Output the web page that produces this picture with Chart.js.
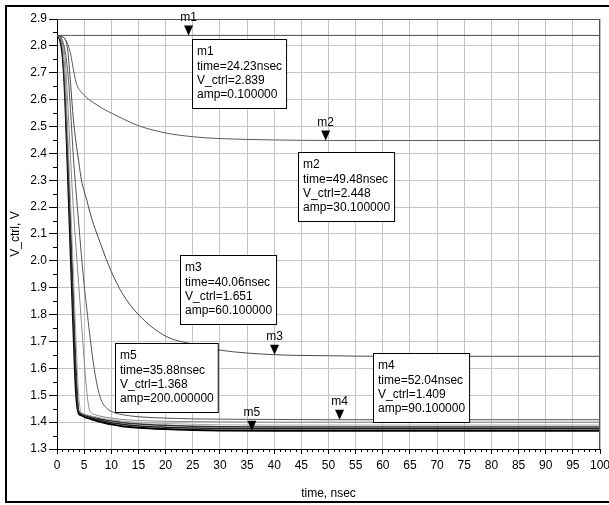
<!DOCTYPE html>
<html>
<head>
<meta charset="utf-8">
<script src="https://cdn.jsdelivr.net/npm/chart.js@4.4.1/dist/chart.umd.min.js"></script>
<style>
  html, body { margin: 0; padding: 0; background: #fff; }
  #wrap { width: 609px; height: 505px; position: relative; }
</style>
</head>
<body>
<div id="wrap"><canvas id="chart" width="609" height="505"></canvas></div>
<script>
// time axis (nsec) shared by all swept curves
var times = [0, 0.5, 1, 1.5, 2, 2.5, 3, 3.5, 4, 4.5, 5, 5.5, 6, 7, 8, 9, 10, 12, 15, 20, 25, 30, 40, 50, 60, 80, 100];

// V_ctrl for each amp value of the sweep
var amp0_1   = [2.839, 2.839, 2.839, 2.839, 2.839, 2.839, 2.839, 2.839, 2.839, 2.839, 2.839, 2.839, 2.839, 2.839, 2.839, 2.839, 2.839, 2.839, 2.839, 2.839, 2.839, 2.839, 2.839, 2.839, 2.839, 2.839, 2.839];
var amp30_1  = [2.839, 2.838, 2.835, 2.825, 2.805, 2.77, 2.715, 2.665, 2.64, 2.628, 2.617, 2.607, 2.598, 2.585, 2.572, 2.56, 2.55, 2.53, 2.503, 2.476, 2.462, 2.455, 2.45, 2.448, 2.448, 2.448, 2.448];
var amp60_1  = [2.839, 2.837, 2.833, 2.825, 2.78, 2.66, 2.53, 2.44, 2.37, 2.30, 2.26, 2.225, 2.185, 2.12, 2.065, 2.01, 1.96, 1.88, 1.80, 1.72, 1.69, 1.668, 1.651, 1.647, 1.645, 1.645, 1.645];
var amp90_1  = [2.839, 2.836, 2.82, 2.78, 2.70, 2.56, 2.39, 2.26, 2.14, 2.02, 1.91, 1.82, 1.73, 1.58, 1.49, 1.455, 1.44, 1.428, 1.42, 1.415, 1.412, 1.411, 1.41, 1.409, 1.409, 1.409, 1.409];
var amp120_1 = [2.839, 2.835, 2.815, 2.75, 2.58, 2.38, 2.20, 2.05, 1.91, 1.77, 1.63, 1.51, 1.445, 1.428, 1.422, 1.418, 1.415, 1.41, 1.406, 1.403, 1.402, 1.401, 1.40, 1.40, 1.40, 1.40, 1.40];
var amp150_1 = [2.839, 2.83, 2.80, 2.68, 2.46, 2.22, 1.97, 1.71, 1.50, 1.435, 1.43, 1.427, 1.424, 1.42, 1.416, 1.412, 1.409, 1.404, 1.399, 1.395, 1.392, 1.39, 1.389, 1.389, 1.389, 1.389, 1.389];
var amp180_1 = [2.839, 2.83, 2.79, 2.65, 2.40, 2.13, 1.86, 1.60, 1.44, 1.432, 1.428, 1.425, 1.422, 1.417, 1.412, 1.408, 1.405, 1.399, 1.393, 1.388, 1.385, 1.383, 1.382, 1.382, 1.382, 1.382, 1.382];
var amp190   = [2.839, 2.828, 2.78, 2.63, 2.36, 2.08, 1.80, 1.55, 1.435, 1.428, 1.424, 1.421, 1.418, 1.412, 1.407, 1.402, 1.398, 1.392, 1.386, 1.381, 1.378, 1.376, 1.375, 1.375, 1.375, 1.375, 1.375];
var amp200   = [2.839, 2.826, 2.77, 2.61, 2.33, 2.04, 1.76, 1.51, 1.432, 1.425, 1.42, 1.416, 1.413, 1.407, 1.401, 1.396, 1.392, 1.385, 1.379, 1.374, 1.371, 1.369, 1.368, 1.368, 1.368, 1.368, 1.368];

// y and x tick labels
var yTicks = ["1.3", "1.4", "1.5", "1.6", "1.7", "1.8", "1.9", "2.0", "2.1", "2.2", "2.3", "2.4", "2.5", "2.6", "2.7", "2.8", "2.9"];
var xTicks = ["0", "5", "10", "15", "20", "25", "30", "35", "40", "45", "50", "55", "60", "65", "70", "75", "80", "85", "90", "95", "100"];

// markers
var markerNames = ["m1", "m2", "m3", "m4", "m5"];
var markerTime  = [24.23, 49.48, 40.06, 52.04, 35.88];
var markerV     = [2.839, 2.448, 1.651, 1.409, 1.368];
var markerAmp   = ["0.100000", "30.100000", "60.100000", "90.100000", "200.000000"];

// where the readout boxes sit (pixels, top-left)
var boxPos = [[192, 39], [298, 152], [180, 255], [373, 353], [115, 343]];

var series = [amp0_1, amp30_1, amp60_1, amp90_1, amp120_1, amp150_1, amp180_1, amp190, amp200];
var colors = ['#4a4a4a', '#5a5a5a', '#4a4a4a', '#555555', '#8a8a8a', '#a8a8a8', '#333333', '#222222', '#000000'];
var widths = [1, 1, 1, 1, 1, 1, 1.5, 1.5, 2];

var FONT = "'Liberation Sans', Arial, sans-serif";
Chart.defaults.font.family = FONT;
Chart.defaults.font.size = 12;
Chart.defaults.color = '#000';

function pts(vals) {
  return vals.map(function (v, i) { return { x: times[i], y: v }; });
}

var datasets = series.map(function (s, i) {
  return {
    data: pts(s),
    borderColor: colors[i],
    borderWidth: widths[i],
    pointRadius: 0,
    fill: false,
    cubicInterpolationMode: 'monotone'
  };
});

var extras = {
  id: 'extras',
  afterDatasetsDraw: function (chart) {
    var ctx = chart.ctx, a = chart.chartArea;
    var xs = chart.scales.x, ys = chart.scales.y;
    ctx.save();
    // plot box
    ctx.strokeStyle = '#555';
    ctx.lineWidth = 1;
    ctx.beginPath();
    ctx.moveTo(a.left, a.top + 0.5); ctx.lineTo(a.right, a.top + 0.5);
    ctx.moveTo(a.right - 0.5, a.top); ctx.lineTo(a.right - 0.5, a.bottom);
    ctx.stroke();
    // minor ticks
    ctx.strokeStyle = '#000';
    ctx.beginPath();
    for (var t = 1; t < 100; t++) {
      if (t % 5 === 0) continue;
      var px = Math.round(xs.getPixelForValue(t)) + 0.5;
      ctx.moveTo(px, a.bottom); ctx.lineTo(px, a.bottom + 3);
    }
    for (var k = 0; k < 16; k++) {
      var py = Math.round(ys.getPixelForValue(1.35 + k * 0.1)) + 0.5;
      ctx.moveTo(a.left - 4, py); ctx.lineTo(a.left, py);
    }
    ctx.stroke();

    // markers + readout boxes
    ctx.font = '12px ' + FONT;
    for (var i = 0; i < markerNames.length; i++) {
      var mx = xs.getPixelForValue(markerTime[i]);
      var my = ys.getPixelForValue(markerV[i]);
      ctx.fillStyle = '#000';
      ctx.beginPath();
      ctx.moveTo(mx, my);
      ctx.lineTo(mx - 4.5, my - 10);
      ctx.lineTo(mx + 4.5, my - 10);
      ctx.closePath();
      ctx.fill();
      ctx.textAlign = 'center';
      ctx.textBaseline = 'middle';
      ctx.fillText(markerNames[i], mx, my - 18);

      var lines = [markerNames[i], 'time=' + markerTime[i].toFixed(2) + 'nsec',
                   'V_ctrl=' + markerV[i].toFixed(3), 'amp=' + markerAmp[i]];
      var w = 0;
      lines.forEach(function (l) { w = Math.max(w, ctx.measureText(l).width); });
      var bx = boxPos[i][0], by = boxPos[i][1];
      ctx.fillStyle = '#fff';
      ctx.fillRect(bx, by, w + 9, 69);
      ctx.strokeStyle = '#000';
      ctx.strokeRect(bx + 0.5, by + 0.5, w + 9, 69);
      ctx.fillStyle = '#000';
      ctx.textAlign = 'left';
      lines.forEach(function (l, j) { ctx.fillText(l, bx + 5, by + 13 + j * 14.3); });
    }

    // outer frame
    ctx.strokeStyle = '#000';
    ctx.lineWidth = 2;
    ctx.strokeRect(6, 6, 620, 496);
    ctx.restore();
  }
};

new Chart(document.getElementById('chart'), {
  type: 'line',
  data: { datasets: datasets },
  plugins: [extras],
  options: {
    responsive: false,
    animation: false,
    events: [],
    layout: { padding: { left: 5, right: 9, top: 19, bottom: 0 } },
    plugins: { legend: { display: false }, tooltip: { enabled: false } },
    scales: {
      x: {
        type: 'linear',
        min: 0, max: 100,
        afterFit: function (s) { s.height = 56; s.paddingLeft = 0; s.paddingRight = 0; },
        ticks: {
          stepSize: 5, maxRotation: 0, autoSkip: false, padding: 4,
          callback: function (v, i) { return xTicks[i]; }
        },
        grid: { color: '#c4c4c4', tickColor: '#000', tickLength: 5 },
        border: { color: '#000', width: 1 },
        title: { display: true, text: 'time, nsec', padding: { top: 0, bottom: 4 } }
      },
      y: {
        type: 'linear',
        min: 1.3, max: 2.9,
        afterFit: function (s) { s.width = 52; s.paddingTop = 0; s.paddingBottom = 0; },
        ticks: {
          stepSize: 0.1, padding: 2,
          callback: function (v, i) { return yTicks[i]; }
        },
        grid: { color: '#c4c4c4', tickColor: '#000', tickLength: 8 },
        border: { color: '#000', width: 1 },
        title: { display: true, text: 'V_ctrl, V', padding: { top: 3, bottom: 0 } }
      }
    }
  }
});
</script>
</body>
</html>
